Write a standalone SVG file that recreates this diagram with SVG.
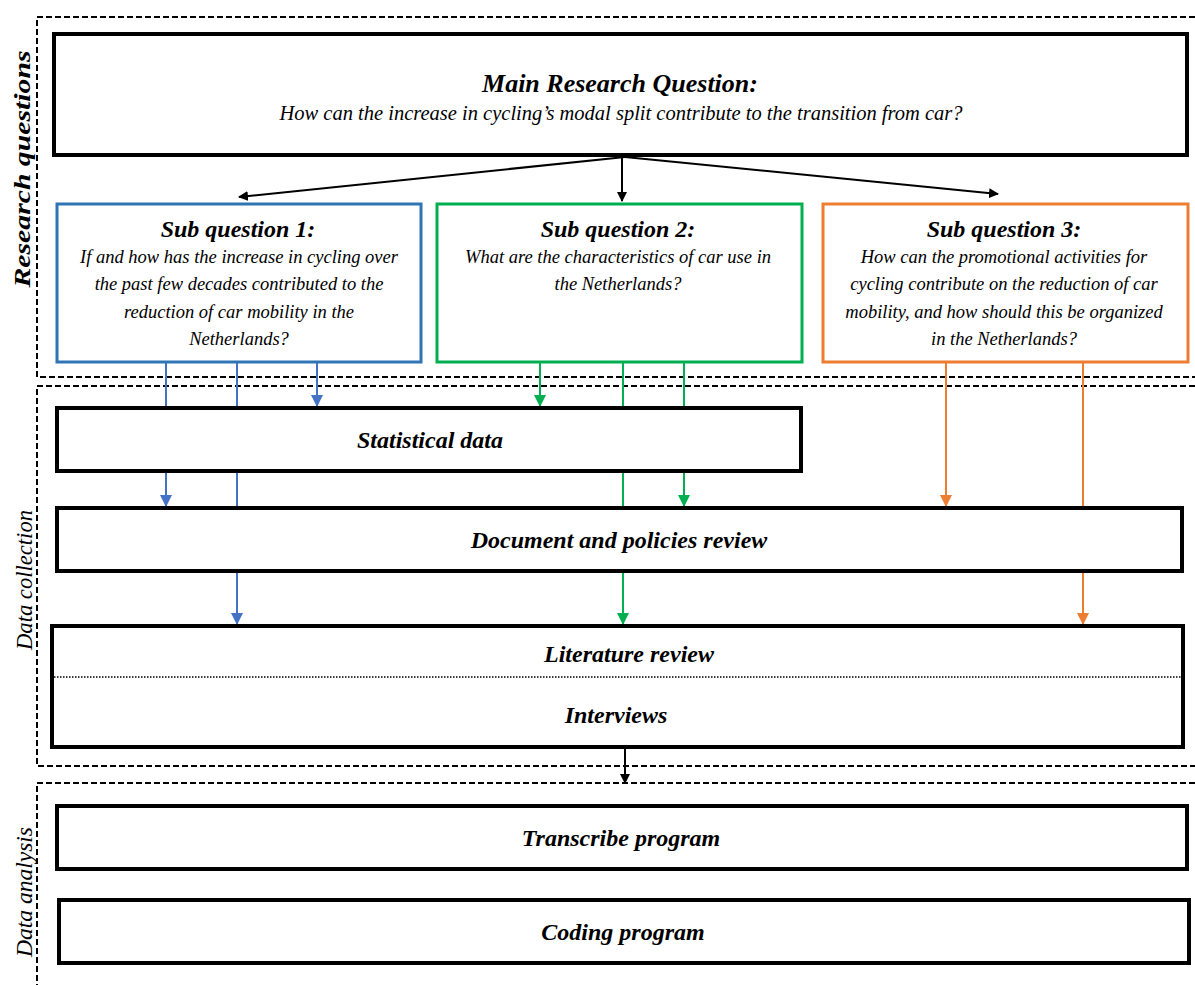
<svg xmlns="http://www.w3.org/2000/svg" width="1195" height="985" viewBox="0 0 1195 985">
  <style>
    .sec { fill: none; stroke: #000; stroke-width: 2; stroke-dasharray: 6 3; }
    .box { fill: #fff; stroke: #000; stroke-width: 4; }
    .sq1 { fill: #fff; stroke: #2E75B6; stroke-width: 3; }
    .sq2 { fill: #fff; stroke: #00B050; stroke-width: 3; }
    .sq3 { fill: #fff; stroke: #ED7D31; stroke-width: 3; }
    text { font-family: "Liberation Serif", "Times New Roman", serif; font-style: italic; fill: #000; text-anchor: middle; }
    .title { font-weight: bold; font-size: 24px; }
    .body { font-size: 18.5px; }
    .lbl { font-weight: bold; font-size: 24px; }
    .side { font-size: 23px; }
    .blk { stroke: #000; stroke-width: 2; fill: none; }
    .blue { stroke: #4472C4; stroke-width: 2; fill: none; }
    .green { stroke: #00B050; stroke-width: 2; fill: none; }
    .orange { stroke: #ED7D31; stroke-width: 2; fill: none; }
  </style>
  <defs>
    <marker id="ahBlack" markerWidth="10" markerHeight="10" refX="9" refY="5" orient="auto" markerUnits="userSpaceOnUse">
      <path d="M0,0 L10,5 L0,10 z" fill="#000"/>
    </marker>
    <marker id="ahBlue" markerWidth="12" markerHeight="12" refX="11" refY="6" orient="auto" markerUnits="userSpaceOnUse">
      <path d="M0,0 L12,6 L0,12 z" fill="#4472C4"/>
    </marker>
    <marker id="ahGreen" markerWidth="12" markerHeight="12" refX="11" refY="6" orient="auto" markerUnits="userSpaceOnUse">
      <path d="M0,0 L12,6 L0,12 z" fill="#00B050"/>
    </marker>
    <marker id="ahOrange" markerWidth="12" markerHeight="12" refX="11" refY="6" orient="auto" markerUnits="userSpaceOnUse">
      <path d="M0,0 L12,6 L0,12 z" fill="#ED7D31"/>
    </marker>
  </defs>

  <!-- Section frames (open on the right) -->
  <g id="sections">
    <path class="sec" d="M1195,17 H37 V377 H1195"/>
    <path class="sec" d="M1195,386 H37 V766 H1195"/>
    <path class="sec" d="M1195,783 H37 V985"/>
    <text class="side" font-weight="bold" textLength="237" lengthAdjust="spacingAndGlyphs" transform="translate(30,169) rotate(-90)">Research questions</text>
    <text class="side" textLength="140" lengthAdjust="spacingAndGlyphs" transform="translate(32,580) rotate(-90)">Data collection</text>
    <text class="side" textLength="130" lengthAdjust="spacingAndGlyphs" transform="translate(32,892) rotate(-90)">Data analysis</text>
  </g>

  <!-- Connectors -->
  <g id="connectors">
    <line class="blk" x1="625" y1="157" x2="239" y2="197" marker-end="url(#ahBlack)"/>
    <line class="blk" x1="622" y1="157" x2="622" y2="201" marker-end="url(#ahBlack)"/>
    <line class="blk" x1="625" y1="157" x2="998" y2="194" marker-end="url(#ahBlack)"/>

    <line class="blue" x1="166" y1="362" x2="166" y2="407"/>
    <line class="blue" x1="166" y1="472" x2="166" y2="506" marker-end="url(#ahBlue)"/>
    <line class="blue" x1="237" y1="362" x2="237" y2="407"/>
    <line class="blue" x1="237" y1="472" x2="237" y2="507"/>
    <line class="blue" x1="237" y1="571" x2="237" y2="624" marker-end="url(#ahBlue)"/>
    <line class="blue" x1="317" y1="362" x2="317" y2="406" marker-end="url(#ahBlue)"/>

    <line class="green" x1="540" y1="362" x2="540" y2="406" marker-end="url(#ahGreen)"/>
    <line class="green" x1="623" y1="362" x2="623" y2="407"/>
    <line class="green" x1="623" y1="472" x2="623" y2="507"/>
    <line class="green" x1="623" y1="571" x2="623" y2="624" marker-end="url(#ahGreen)"/>
    <line class="green" x1="684" y1="362" x2="684" y2="407"/>
    <line class="green" x1="684" y1="472" x2="684" y2="506" marker-end="url(#ahGreen)"/>

    <line class="orange" x1="946" y1="362" x2="946" y2="506" marker-end="url(#ahOrange)"/>
    <line class="orange" x1="1083" y1="362" x2="1083" y2="507"/>
    <line class="orange" x1="1083" y1="571" x2="1083" y2="624" marker-end="url(#ahOrange)"/>

    <line class="blk" x1="625" y1="748" x2="625" y2="783" marker-end="url(#ahBlack)"/>
  </g>

  <!-- Main research question -->
  <g id="main-question">
    <rect class="box" x="54" y="34" width="1133" height="121"/>
    <text class="title" x="620" y="92" style="font-size:26px">Main Research Question:</text>
    <text class="body" x="621" y="120" style="font-size:20.5px">How can the increase in cycling’s modal split contribute to the transition from car?</text>
  </g>

  <!-- Sub questions -->
  <g id="sub-question-1">
    <rect class="sq1" x="57" y="204" width="364" height="158"/>
    <text class="title" x="238" y="237">Sub question 1:</text>
    <text class="body" x="239" y="263">If and how has the increase in cycling over</text>
    <text class="body" x="239" y="290">the past few decades contributed to the</text>
    <text class="body" x="239" y="318">reduction of car mobility in the</text>
    <text class="body" x="239" y="345">Netherlands?</text>
  </g>
  <g id="sub-question-2">
    <rect class="sq2" x="437" y="204" width="365" height="158"/>
    <text class="title" x="618" y="237">Sub question 2:</text>
    <text class="body" x="618" y="263">What are the characteristics of car use in</text>
    <text class="body" x="618" y="290">the Netherlands?</text>
  </g>
  <g id="sub-question-3">
    <rect class="sq3" x="823" y="204" width="365" height="158"/>
    <text class="title" x="1004" y="237">Sub question 3:</text>
    <text class="body" x="1004" y="263">How can the promotional activities for</text>
    <text class="body" x="1004" y="290">cycling contribute on the reduction of car</text>
    <text class="body" x="1004" y="318">mobility, and how should this be organized</text>
    <text class="body" x="1004" y="345">in the Netherlands?</text>
  </g>

  <!-- Data collection -->
  <g id="statistical-data">
    <rect class="box" x="57" y="408" width="744" height="63"/>
    <text class="lbl" x="430" y="448">Statistical data</text>
  </g>
  <g id="document-review">
    <rect class="box" x="57" y="508" width="1125" height="63"/>
    <text class="lbl" x="619" y="548">Document and policies review</text>
  </g>
  <g id="literature-interviews">
    <rect class="box" x="52" y="626" width="1131" height="121"/>
    <line x1="54" y1="677" x2="1181" y2="677" stroke="#000" stroke-width="1.5" stroke-dasharray="1.5 1.5"/>
    <text class="lbl" x="629" y="662">Literature review</text>
    <text class="lbl" x="616" y="723">Interviews</text>
  </g>

  <!-- Data analysis -->
  <g id="transcribe-program">
    <rect class="box" x="57" y="806" width="1130" height="63"/>
    <text class="lbl" x="621" y="846">Transcribe program</text>
  </g>
  <g id="coding-program">
    <rect class="box" x="59" y="900" width="1130" height="63"/>
    <text class="lbl" x="623" y="940">Coding program</text>
  </g>
</svg>
